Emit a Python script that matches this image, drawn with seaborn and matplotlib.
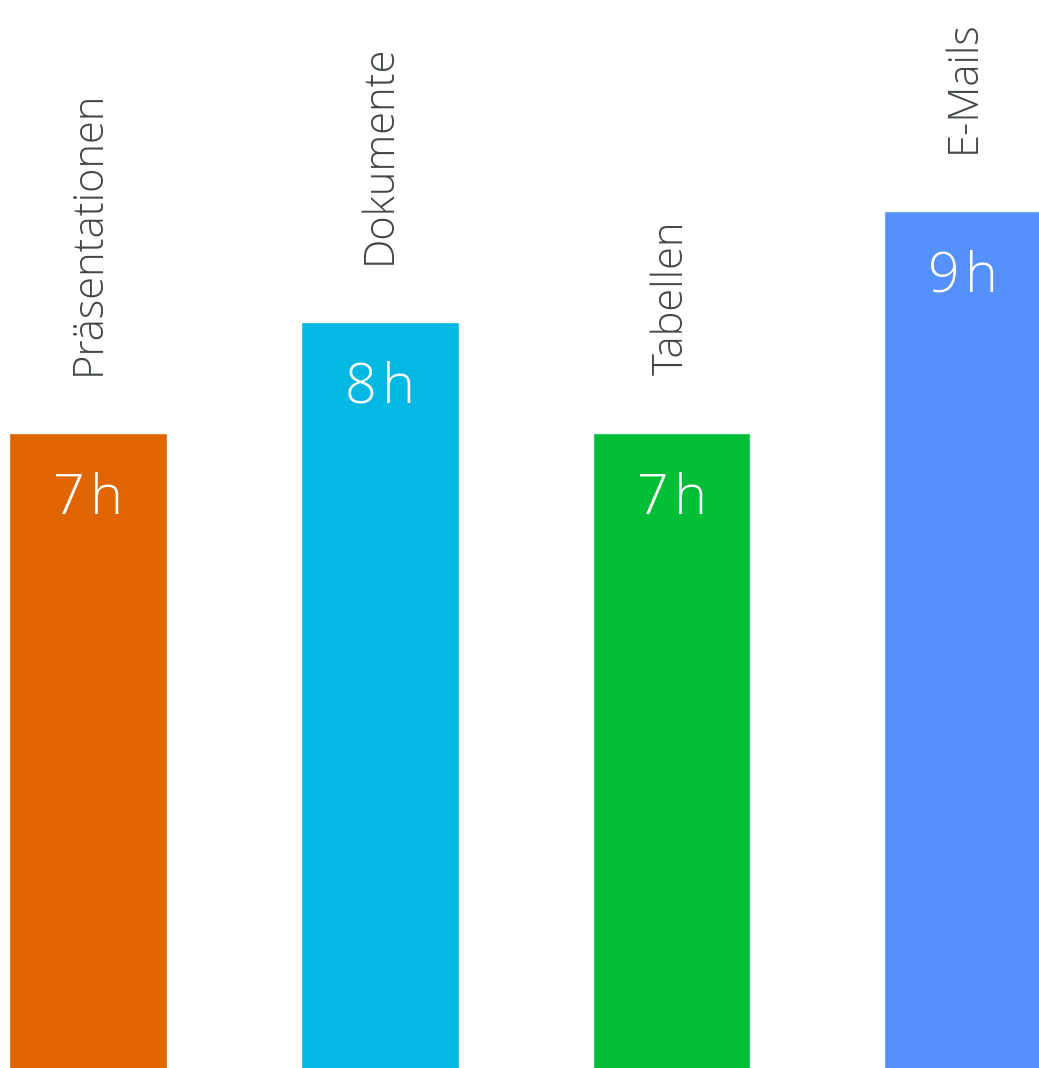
import pandas as pd
import matplotlib.pyplot as plt
import seaborn as sns

# data
categories = ['Präsentationen', 'Dokumente', 'Tabellen', 'E-Mails']
hours = [7, 8, 7, 9]
value_labels = ['7\u200ah', '8\u200ah', '7\u200ah', '9\u200ah']
colors = ['#E06400', '#03B8E2', '#00BE35', '#5590FF']

sns.set_theme(style='white')
plt.rcParams['font.family'] = ['Open Sans', 'DejaVu Sans']

df = pd.DataFrame({'category': categories, 'hours': hours})

fig = plt.figure(figsize=(10.39, 10.68), dpi=100)
ax = fig.add_axes([0, 0, 1, 1])
sns.barplot(data=df, x='category', y='hours', hue='category', palette=colors,
            width=0.54, legend=False, ax=ax, saturation=1)

ax.set_xlim(-0.302, 3.26)
ax.set_ylim(1.28, 10.9)
ax.axis('off')

for i, (v, lab, cat) in enumerate(zip(hours, value_labels, categories)):
    ax.annotate(lab, (i, v), xytext=(0, -28), textcoords='offset points',
                ha='center', va='top', color='white', fontsize=40, fontweight='light')
    ax.annotate(cat, (i, v), xytext=(0, 42), textcoords='offset points',
                ha='center', va='bottom', rotation=90, color='#404548',
                fontsize=30, fontweight='light')

fig.savefig('out.png', dpi=100)
